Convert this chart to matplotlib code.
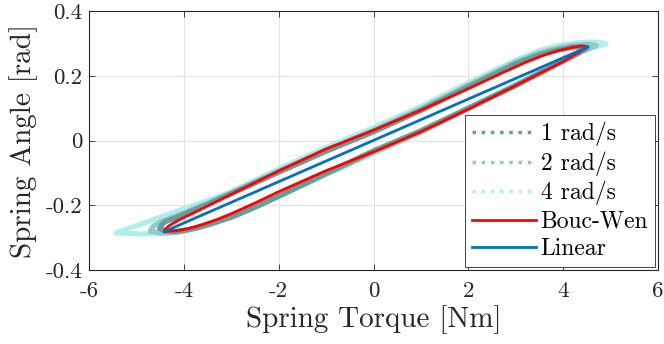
import numpy as np
import matplotlib
matplotlib.use("Agg")
import matplotlib.pyplot as plt
from matplotlib.lines import Line2D

plt.rcParams["font.family"] = "serif"
plt.rcParams["font.serif"] = ["cmr10"]
plt.rcParams["axes.unicode_minus"] = False
plt.rcParams["mathtext.fontset"] = "cm"

m1_up_x = [-4.5, -4.47, -4.4, -4.2, -4.0, -3.5, -3.0, -2.0, -1.0, 0.0, 1.0, 2.0, 3.0, 3.5, 3.9, 4.2, 4.4, 4.5]
m1_up_y = [-0.272, -0.261, -0.251, -0.240, -0.228, -0.197, -0.164, -0.098, -0.033, 0.027, 0.093, 0.166, 0.237, 0.265, 0.280, 0.288, 0.290, 0.287]
m1_lo_x = [-4.5, -4.4, -4.2, -4.0, -3.7, -3.4, -3.0, -2.5, -2.0, -1.0, 0.0, 1.0, 2.0, 3.0, 4.0, 4.3, 4.5]
m1_lo_y = [-0.272, -0.279, -0.281, -0.278, -0.269, -0.256, -0.237, -0.206, -0.172, -0.102, -0.032, 0.030, 0.100, 0.170, 0.245, 0.268, 0.287]

m2_up_x = [-4.7, -4.65, -4.5, -4.2, -4.0, -3.5, -3.0, -2.0, -1.0, 0.0, 1.0, 2.0, 3.0, 3.5, 4.0, 4.3, 4.55, 4.7]
m2_up_y = [-0.280, -0.266, -0.252, -0.236, -0.224, -0.194, -0.162, -0.094, -0.030, 0.032, 0.098, 0.171, 0.242, 0.271, 0.289, 0.295, 0.297, 0.293]
m2_lo_x = [-4.7, -4.5, -4.2, -4.0, -3.7, -3.4, -3.0, -2.5, -2.0, -1.0, 0.0, 1.0, 2.0, 3.0, 4.0, 4.4, 4.7]
m2_lo_y = [-0.280, -0.285, -0.284, -0.279, -0.268, -0.255, -0.236, -0.206, -0.172, -0.103, -0.036, 0.027, 0.099, 0.171, 0.248, 0.275, 0.293]

m4_up_x = [-5.42, -5.0, -4.5, -4.0, -3.5, -3.0, -2.0, -1.0, 0.0, 1.0, 2.0, 3.0, 3.5, 3.9, 4.3, 4.6, 4.8, 4.9]
m4_up_y = [-0.285, -0.263, -0.237, -0.211, -0.186, -0.158, -0.088, -0.022, 0.040, 0.105, 0.178, 0.248, 0.278, 0.293, 0.302, 0.304, 0.302, 0.298]
m4_lo_x = [-5.42, -5.0, -4.4, -4.0, -3.6, -3.0, -2.5, -2.0, -1.0, 0.0, 1.0, 2.0, 3.0, 4.0, 4.5, 4.9]
m4_lo_y = [-0.285, -0.288, -0.288, -0.280, -0.264, -0.236, -0.205, -0.172, -0.105, -0.040, 0.025, 0.098, 0.172, 0.250, 0.283, 0.298]

# Bouc-Wen model loop
bw_up_x = [-4.41, -4.38, -4.3, -4.1, -3.8, -3.0, -2.0, -1.0, 0.0, 1.0, 2.0, 2.7, 3.2, 3.6, 3.9, 4.2, 4.4, 4.52]
bw_up_y = [-0.281, -0.272, -0.262, -0.245, -0.224, -0.166, -0.094, -0.026, 0.032, 0.094, 0.160, 0.208, 0.241, 0.264, 0.278, 0.288, 0.292, 0.289]
bw_lo_x = [-4.41, -4.2, -4.0, -3.8, -3.6, -3.3, -3.0, -2.5, -2.0, -1.0, 0.0, 1.0, 2.0, 3.0, 4.0, 4.52]
bw_lo_y = [-0.281, -0.279, -0.275, -0.268, -0.259, -0.244, -0.226, -0.193, -0.158, -0.093, -0.035, 0.027, 0.097, 0.170, 0.244, 0.289]

# linear model
lin_x = [-4.41, 4.52]
lin_y = [-0.281, 0.289]

labels = ["1 rad/s", "2 rad/s", "4 rad/s", "Bouc-Wen", "Linear"]
c_m1, c_m2, c_m4 = "#6b9b9b", "#8fcaca", "#b0eeee"
c_bw, c_lin = "#ff0000", "#0072bd"


def loop(ux, uy, lx, ly):
    return np.concatenate([ux, lx[::-1]]), np.concatenate([uy, ly[::-1]])


fig = plt.figure(figsize=(6.64, 3.44), dpi=100)
ax = fig.add_axes([0.134, 0.215, 0.857, 0.753])

for ux, uy, lx, ly, c in [
    (m4_up_x, m4_up_y, m4_lo_x, m4_lo_y, c_m4),
    (m2_up_x, m2_up_y, m2_lo_x, m2_lo_y, c_m2),
    (m1_up_x, m1_up_y, m1_lo_x, m1_lo_y, c_m1),
]:
    xs, ys = loop(ux, uy, lx, ly)
    ax.plot(xs, ys, color=c, lw=3.8, solid_joinstyle="round", solid_capstyle="round")

xs, ys = loop(bw_up_x, bw_up_y, bw_lo_x, bw_lo_y)
ax.plot(xs, ys, color=c_bw, lw=2.0, solid_joinstyle="round")
ax.plot(lin_x, lin_y, color=c_lin, lw=2.0)

ax.set_xlim(-6, 6)
ax.set_ylim(-0.4, 0.4)
ax.set_xticks([-6, -4, -2, 0, 2, 4, 6])
ax.set_xticklabels(["-6", "-4", "-2", "0", "2", "4", "6"])
ax.set_yticks([-0.4, -0.2, 0, 0.2, 0.4])
ax.set_yticklabels(["-0.4", "-0.2", "0", "0.2", "0.4"])
ax.tick_params(direction="in", length=4, width=0.6, top=True, right=True,
               labelsize=16.5, colors="#262626", pad=5)
ax.tick_params(axis="x", pad=8)
ax.grid(True, color="#e3e3e3", lw=0.8)
ax.set_axisbelow(True)
for s in ax.spines.values():
    s.set_color("#262626")
    s.set_linewidth(0.8)

ax.set_xlabel("Spring Torque [Nm]", fontsize=21, color="#262626", labelpad=3)
ax.set_ylabel("Spring Angle [rad]", fontsize=21, color="#262626", labelpad=5)

handles = [
    Line2D([], [], color=c_m1, lw=2.5, ls=":"),
    Line2D([], [], color=c_m2, lw=2.5, ls=":"),
    Line2D([], [], color=c_m4, lw=2.5, ls=":"),
    Line2D([], [], color=c_bw, lw=2.0),
    Line2D([], [], color=c_lin, lw=2.0),
]
leg = ax.legend(handles, labels, loc="lower right", fontsize=17, frameon=True,
                fancybox=False, edgecolor="#262626", framealpha=1,
                borderaxespad=0.12, handlelength=2.7, handletextpad=0.2,
                labelspacing=0.22, borderpad=0.3)
leg.get_frame().set_linewidth(0.6)

fig.savefig("out.png", dpi=100)
